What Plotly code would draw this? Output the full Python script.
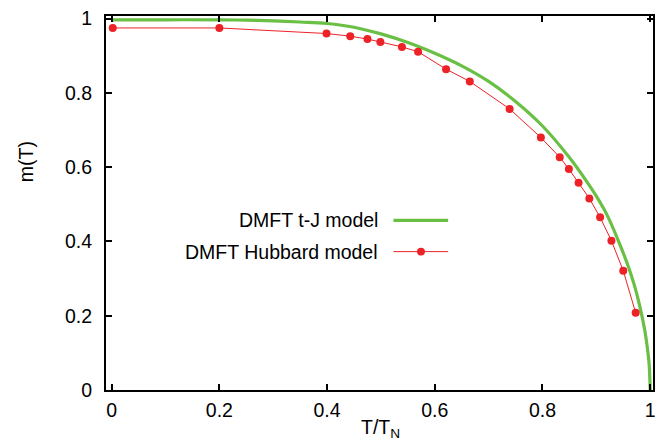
import plotly.graph_objects as go

# DMFT t-J model: smooth magnetization curve m(T) vs T/T_N
tj_T = [0.0, 0.1, 0.2, 0.25, 0.3, 0.35, 0.4, 0.45, 0.5, 0.55, 0.6, 0.65,
        0.7, 0.75, 0.8, 0.85, 0.88, 0.9, 0.92, 0.94, 0.96, 0.97, 0.98,
        0.99, 0.995, 0.998, 1.0]
tj_m = [0.997, 0.997, 0.997, 0.996, 0.994, 0.991, 0.987, 0.977, 0.959,
        0.936, 0.907, 0.873, 0.831, 0.777, 0.711, 0.626, 0.566, 0.522,
        0.471, 0.405, 0.33, 0.285, 0.23, 0.16, 0.11, 0.07, 0.0]

# DMFT Hubbard model: computed points
hub_T = [0.002, 0.2, 0.399, 0.443, 0.475, 0.499, 0.539, 0.569, 0.621,
         0.665, 0.739, 0.797, 0.832, 0.849, 0.867, 0.887, 0.907, 0.928,
         0.950, 0.973]
hub_m = [0.975, 0.975, 0.960, 0.953, 0.945, 0.937, 0.924, 0.911, 0.864,
         0.831, 0.757, 0.680, 0.627, 0.595, 0.558, 0.516, 0.465, 0.402,
         0.321, 0.208]

x_ticks = [0, 0.2, 0.4, 0.6, 0.8, 1]
y_ticks = [0, 0.2, 0.4, 0.6, 0.8, 1]

GREEN = "#6abf45"
RED = "#ec2227"
FONT = "Liberation Sans"
FS = 19.5

fig = go.Figure()
fig.add_trace(go.Scatter(x=tj_T, y=tj_m, mode="lines",
                         line=dict(color=GREEN, width=3.2, shape="spline"),
                         name="DMFT t-J model", showlegend=False))
fig.add_trace(go.Scatter(x=hub_T, y=hub_m, mode="lines+markers",
                         line=dict(color=RED, width=1),
                         marker=dict(color=RED, size=8),
                         name="DMFT Hubbard model", showlegend=False))

axis_common = dict(
    showline=True, linecolor="black", linewidth=2, mirror="ticks",
    ticks="inside", ticklen=6, tickwidth=1.5, tickcolor="black",
    showgrid=False, zeroline=False,
    tickfont=dict(family=FONT, size=FS, color="black"),
)

fig.update_xaxes(range=[-0.0105, 1.0052], tickvals=x_ticks,
                 ticktext=[f"{v:g}" for v in x_ticks],
                 ticklabelstandoff=2, **axis_common)
fig.update_yaxes(range=[0, 1.0072], tickvals=y_ticks,
                 ticktext=[f"{v:g}" for v in y_ticks],
                 ticklabelstandoff=8, **axis_common)

L, R, T, B = 106, 8, 13, 51
W, H = 664, 441
pw, ph = W - L - R, H - T - B


def px(xp):
    return (xp - L) / pw


def py(yp):
    return (H - B - yp) / ph


annotations = [
    dict(text="m(T)", x=px(25), y=py(160), xref="paper", yref="paper",
         textangle=-90, showarrow=False, xanchor="center", yanchor="middle",
         font=dict(family=FONT, size=FS, color="black")),
    dict(text="T/T<sub>N</sub>", x=px(382), y=py(429), xref="paper",
         yref="paper", showarrow=False, xanchor="center", yanchor="middle",
         font=dict(family=FONT, size=FS, color="black")),
    dict(text="DMFT t-J model", x=px(382), y=py(219), xref="paper",
         yref="paper", showarrow=False, xanchor="right", yanchor="middle",
         font=dict(family=FONT, size=FS, color="black")),
    dict(text="DMFT Hubbard model", x=px(382), y=py(250.5), xref="paper",
         yref="paper", showarrow=False, xanchor="right", yanchor="middle",
         font=dict(family=FONT, size=FS, color="black")),
]

shapes = [
    dict(type="line", xref="paper", yref="paper", x0=px(395), x1=px(450),
         y0=py(219), y1=py(219), line=dict(color=GREEN, width=3.2)),
    dict(type="line", xref="paper", yref="paper", x0=px(395), x1=px(450),
         y0=py(250.5), y1=py(250.5), line=dict(color=RED, width=1)),
    dict(type="circle", xref="paper", yref="paper",
         x0=px(422.7 - 4), x1=px(422.7 + 4),
         y0=py(250.5 + 4), y1=py(250.5 - 4),
         fillcolor=RED, line=dict(color=RED, width=0)),
]

fig.update_layout(
    width=W, height=H,
    margin=dict(l=L, r=R, t=T, b=B, pad=0),
    paper_bgcolor="white", plot_bgcolor="white",
    font=dict(family=FONT, size=FS, color="black"),
    annotations=annotations, shapes=shapes,
    showlegend=False,
)

fig.write_html("out.html")
